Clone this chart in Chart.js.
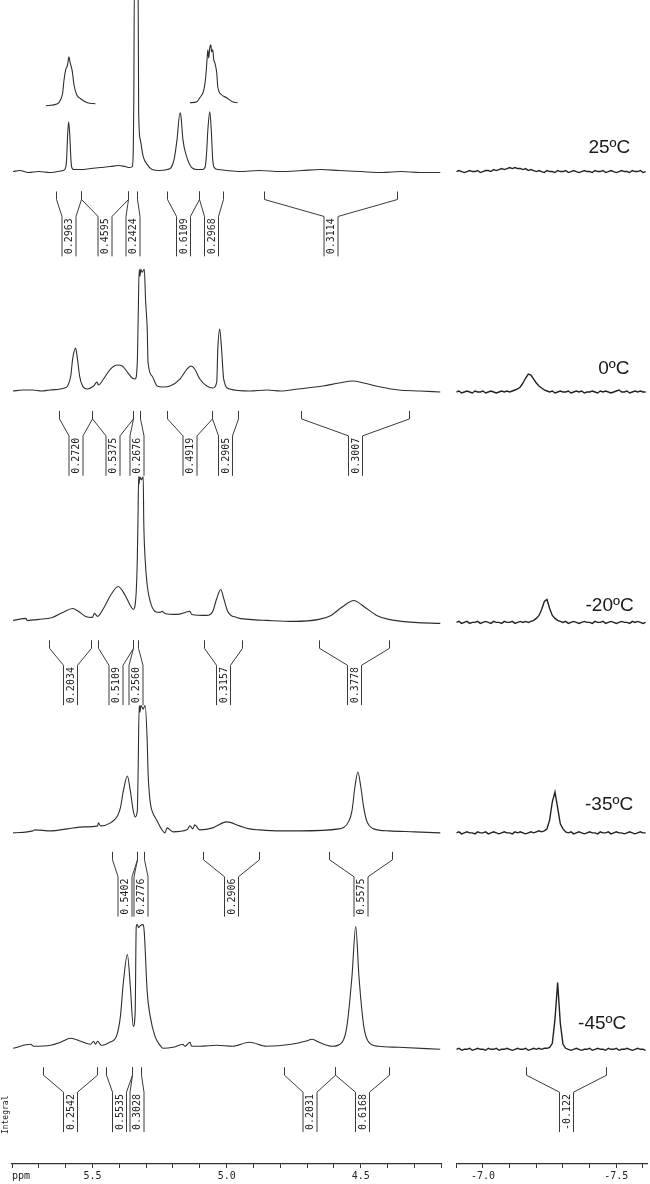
<!DOCTYPE html>
<html>
<head>
<meta charset="utf-8">
<title>Variable-temperature 1H NMR</title>
<script src="https://cdn.jsdelivr.net/npm/chart.js@4.4.1/dist/chart.umd.min.js"></script>
<style>
  html, body { margin: 0; padding: 0; background: #fff; }
  #wrap { position: relative; width: 650px; height: 1184px; }
</style>
</head>
<body>
<div id="wrap"><canvas id="nmr" width="650" height="1184"></canvas></div>
<script>
// ---------- spectra: [ppm, intensity above baseline] ----------
const TEMPERATURES = ['25ºC', '0ºC', '-20ºC', '-35ºC', '-45ºC'];

const LEFT_TICKS  = [5.8, 5.7, 5.6, 5.5, 5.4, 5.3, 5.2, 5.1, 5.0, 4.9, 4.8, 4.7, 4.6, 4.5, 4.4, 4.3, 4.2];
const LEFT_MAJOR  = [5.5, 5.0, 4.5];
const RIGHT_TICKS = [-6.9, -7.0, -7.1, -7.2, -7.3, -7.4, -7.5, -7.6];
const RIGHT_MAJOR = [-7.0, -7.5];

const SPEC_25 = [[5.796,0],[5.770,1],[5.740,-1],[5.700,0],[5.660,-1],[5.630,0],[5.610,1],[5.600,4],[5.596,15],[5.593,35],
  [5.589,50],[5.585,38],[5.581,15],[5.578,5],[5.570,2],[5.544,2],[5.507,3],[5.470,4],[5.433,5],[5.404,6],[5.378,5],[5.363,4],
  [5.352,5],[5.348,22],[5.346,72],[5.344,185],[5.330,185],[5.328,60],[5.322,32],[5.311,15],[5.296,7],[5.278,2],[5.250,1],
  [5.222,2],[5.207,4],[5.196,12],[5.185,32],[5.174,59],[5.170,55],[5.163,32],[5.148,14],[5.130,4],[5.110,2],[5.090,2],
  [5.081,4],[5.076,14],[5.070,42],[5.063,60],[5.057,40],[5.052,12],[5.046,4],[5.030,2],[5.000,1],[4.950,0],[4.880,1],
  [4.800,0],[4.720,1],[4.650,2],[4.580,1],[4.500,0],[4.420,-1],[4.350,0],[4.280,-1],[4.204,-1]];
const INSET_25_A = [[5.674,66],[5.630,68],[5.619,72],[5.611,79],[5.607,90],[5.600,102],[5.593,107],[5.590,112],[5.588,115],
  [5.584,110],[5.579,105],[5.575,100],[5.569,87],[5.559,77],[5.544,73],[5.519,69],[5.489,68]];
const INSET_25_B = [[5.137,69],[5.111,70],[5.100,74],[5.085,82],[5.078,95],[5.074,109],[5.070,122],[5.067,114],[5.063,124],
  [5.059,127],[5.056,120],[5.052,122],[5.048,112],[5.044,109],[5.037,99],[5.033,85],[5.019,77],[5.000,74],[4.978,70],[4.959,69]];

const SPEC_0 = [[5.796,0],[5.760,1],[5.722,1],[5.690,0],[5.659,1],[5.604,3],[5.593,5],[5.581,15],[5.574,32],[5.563,43],
  [5.556,32],[5.548,15],[5.537,5],[5.519,2],[5.496,5],[5.483,9],[5.478,6],[5.459,12],[5.433,22],[5.407,26],[5.389,25],
  [5.370,19],[5.352,13],[5.341,12],[5.333,29],[5.330,70],[5.326,122],[5.323,115],[5.320,122],[5.315,119],[5.307,122],
  [5.302,90],[5.296,62],[5.293,29],[5.278,15],[5.259,5],[5.237,4],[5.211,5],[5.174,12],[5.148,22],[5.133,25],[5.119,22],
  [5.100,12],[5.074,5],[5.052,3],[5.037,9],[5.033,42],[5.026,62],[5.019,42],[5.011,12],[4.989,2],[4.915,0],[4.850,1],
  [4.800,0],[4.733,2],[4.641,5],[4.581,8],[4.530,10],[4.489,8],[4.426,4],[4.359,1],[4.280,0],[4.204,-1]];

const SPEC_20 = [[5.796,0],[5.748,2],[5.744,0],[5.700,1],[5.650,3],[5.611,8],[5.574,12],[5.552,9],[5.526,4],[5.500,3],
  [5.493,7],[5.481,4],[5.459,12],[5.433,25],[5.404,34],[5.378,25],[5.359,15],[5.348,11],[5.337,29],[5.333,62],[5.330,110],
  [5.328,144],[5.326,137],[5.324,144],[5.318,141],[5.311,144],[5.309,100],[5.304,62],[5.296,35],[5.285,19],[5.267,9],
  [5.248,8],[5.241,9],[5.230,7],[5.185,6],[5.137,9],[5.130,6],[5.074,5],[5.052,9],[5.037,22],[5.022,31],[5.011,22],
  [4.996,9],[4.963,3],[4.915,1],[4.850,0],[4.750,-1],[4.656,1],[4.611,5],[4.567,14],[4.526,20],[4.489,14],[4.441,5],
  [4.396,1],[4.300,-2],[4.204,-3]];

const SPEC_35 = [[5.796,-1],[5.722,1],[5.715,2],[5.656,1],[5.593,3],[5.533,5],[5.481,6],[5.478,9],[5.470,6],[5.433,9],
  [5.407,16],[5.396,24],[5.385,41],[5.370,56],[5.359,41],[5.348,21],[5.341,15],[5.333,21],[5.330,60],[5.326,127],
  [5.323,120],[5.320,127],[5.311,123],[5.304,127],[5.296,90],[5.293,60],[5.285,30],[5.278,21],[5.259,11],[5.241,2],
  [5.230,-1],[5.222,4],[5.200,0],[5.148,2],[5.137,6],[5.126,3],[5.119,7],[5.100,2],[5.052,4],[5.000,10],[4.952,6],
  [4.915,3],[4.878,2],[4.800,1],[4.730,1],[4.581,3],[4.544,11],[4.533,21],[4.522,45],[4.511,60],[4.500,45],[4.489,24],
  [4.478,11],[4.452,3],[4.396,1],[4.300,0],[4.204,-1]];

const SPEC_45 = [[5.796,-1],[5.730,3],[5.719,1],[5.656,2],[5.619,5],[5.581,9],[5.544,6],[5.507,3],[5.496,6],[5.489,3],
  [5.481,6],[5.467,2],[5.437,5],[5.411,11],[5.396,31],[5.385,65],[5.370,93],[5.359,61],[5.348,21],[5.341,35],[5.337,121],
  [5.333,123],[5.328,120],[5.322,122],[5.311,123],[5.307,115],[5.296,55],[5.285,31],[5.267,11],[5.248,2],[5.237,-1],
  [5.200,0],[5.163,3],[5.156,1],[5.137,5],[5.130,1],[5.100,1],[5.037,2],[4.978,1],[4.915,5],[4.852,1],[4.759,3],
  [4.707,6],[4.681,8],[4.656,5],[4.607,1],[4.570,5],[4.552,21],[4.533,71],[4.519,121],[4.507,71],[4.489,21],[4.470,5],
  [4.433,1],[4.359,0],[4.204,-2]];

// hydride region, sampled every 0.01 ppm
const RIGHT_PPM = [-6.90,-6.91,-6.92,-6.93,-6.94,-6.95,-6.96,-6.97,-6.98,-6.99,
  -7.00,-7.01,-7.02,-7.03,-7.04,-7.05,-7.06,-7.07,-7.08,-7.09,
  -7.10,-7.11,-7.12,-7.13,-7.14,-7.15,-7.16,-7.17,-7.18,-7.19,
  -7.20,-7.21,-7.22,-7.23,-7.24,-7.25,-7.26,-7.27,-7.28,-7.29,
  -7.30,-7.31,-7.32,-7.33,-7.34,-7.35,-7.36,-7.37,-7.38,-7.39,
  -7.40,-7.41,-7.42,-7.43,-7.44,-7.45,-7.46,-7.47,-7.48,-7.49,
  -7.50,-7.51,-7.52,-7.53,-7.54,-7.55,-7.56,-7.57,-7.58,-7.59,
  -7.60,-7.61];
const RIGHT_25 = [0,1,0,-1,0,1,0,0,1,-1, 0,1,1,0,2,1,2,3,2,3, 4,3,4,3,3,2,3,1,2,1, 0,1,0,-1,1,0,0,-1,1,0,
  0,1,-1,0,1,0,-1,0,1,0, 0,-1,1,0,0,1,-1,0,1,0, -1,0,1,0,0,-1,1,0,0,1, -1,0];
const RIGHT_0 = [-1,0,-2,-1,0,-1,-2,0,-1,-1, 0,-2,-1,0,-1,-2,-1,0,-1,0, -1,0,1,
  2,4,8,13,17,16,12,8,5,3,1,
  0,-1,0,-2,-1,0,-1,-1,0,-2, -1,0,-1,0,-2,-1,-1,0,-1,-2, 0,-1,0,-1,-2,-1,0,1,-1,-1, 0,-2,-1,0,-1,0,-1,-1];
const RIGHT_20 = [-2,-1,-3,-2,-1,-3,-2,-2,-1,-3, -2,-1,-2,-3,-1,-2,-2,-3,-1,-2, -2,-1,-3,-2,-1,-2,-1,-2,-1,
  0,2,5,11,19,21,12,5,2,0,
  -1,-2,-1,-3,-2,-1,-2,-3,-2,-1, -2,-2,-3,-1,-2,-2,-1,-3,-2,-1, -2,-3,-2,-1,-2,-2,-3,-1,-2,-1, -2,-3,-2];
const RIGHT_35 = [-1,0,-2,-1,0,-1,-1,-2,0,-1, -1,0,-2,-1,0,-1,-2,-1,0,-1, -1,-2,0,-1,0,-1,-2,-1,0,-1, 0,1,0,
  1,3,12,30,40,24,8,3,0,
  -1,0,-2,-1,0,-1,-2,-1,0,-1, -1,-2,0,-1,-1,0,-2,-1,0,-1, -1,-2,-1,0,-1,-2,-1,0,-1,-1];
const RIGHT_45 = [-2,-1,-3,-2,-2,-1,-3,-2,-1,-2, -2,-3,-1,-2,-2,-1,-3,-2,-2,-1, -2,-3,-2,-1,-2,-2,-1,-3,-2,-1, -2,-1,-2,-1,-1,
  0,4,28,65,24,3,-1,
  -2,-3,-2,-1,-2,-3,-2,-2,-1,-3, -2,-1,-2,-2,-3,-1,-2,-2,-1,-3, -2,-2,-1,-2,-3,-2,-1,-2,-2,-3];

// integral regions: [from ppm, to ppm, value]
const INT_25 = [[5.637,5.544,'0.2963'],[5.544,5.367,'0.4595'],[5.367,5.333,'0.2424'],[5.222,5.104,'0.6109'],[5.104,5.015,'0.2968'],[4.859,4.367,'0.3114']];
const INT_0  = [[5.626,5.500,'0.2720'],[5.500,5.348,'0.5375'],[5.348,5.322,'0.2676'],[5.222,5.056,'0.4919'],[5.056,4.956,'0.2905'],[4.722,4.319,'0.3007']];
const INT_20 = [[5.663,5.507,'0.2034'],[5.481,5.348,'0.5109'],[5.348,5.330,'0.2560'],[5.085,4.944,'0.3157'],[4.656,4.396,'0.3778']];
const INT_35 = [[5.426,5.333,'0.5402'],[5.333,5.307,'0.2776'],[5.089,4.878,'0.2906'],[4.619,4.385,'0.5575']];
const INT_45 = [[5.685,5.485,'0.2542'],[5.448,5.352,'0.5535'],[5.352,5.319,'0.3028'],[4.785,4.596,'0.2031'],[4.596,4.396,'0.6168']];
const INT_45_HYDRIDE = [[-7.160,-7.463,'-0.122']];

// ---------- layout ----------
// each trace row gets its own stacked y scale (1 unit = 1 px)
const ROWS = [
  { id: 'yA', max: 172, min: -90 },
  { id: 'yB', max: 130, min: -85 },
  { id: 'yC', max: 145, min: -85 },
  { id: 'yD', max: 127, min: -91 },
  { id: 'yE', max: 125, min: -117 }
];
const LEFT_SPECTRA  = [SPEC_25, SPEC_0, SPEC_20, SPEC_35, SPEC_45];
const RIGHT_SPECTRA = [RIGHT_25, RIGHT_0, RIGHT_20, RIGHT_35, RIGHT_45];
const LEFT_INTEGRALS  = [INT_25, INT_0, INT_20, INT_35, INT_45];
const RIGHT_INTEGRALS = [[], [], [], [], INT_45_HYDRIDE];
const TEMP_LABEL_AT = [[-7.552, 24], [-7.549, 22], [-7.565, 15], [-7.563, 27], [-7.537, 24]];
const BRACKET = { top: -20, knee: -28, neck: -45, bottom: -85, half: 7 };

const INK = '#2e2e2e';
const MONO = '"DejaVu Sans Mono", "Liberation Mono", monospace';

const datasets = [];
ROWS.forEach((row, i) => {
  datasets.push({ data: LEFT_SPECTRA[i], xAxisID: 'xL', yAxisID: row.id,
    borderColor: INK, borderWidth: 1.1, pointRadius: 0, cubicInterpolationMode: 'monotone' });
  datasets.push({ data: RIGHT_PPM.map((p, k) => [p, RIGHT_SPECTRA[i][k]]), xAxisID: 'xR', yAxisID: row.id,
    borderColor: '#222', borderWidth: 1.4, pointRadius: 0, tension: 0 });
});
[INSET_25_A, INSET_25_B].forEach(inset => {
  datasets.push({ data: inset, xAxisID: 'xL', yAxisID: 'yA',
    borderColor: INK, borderWidth: 1.1, pointRadius: 0, cubicInterpolationMode: 'monotone' });
});

function ppmAxis(ticks, major, min, max, weight, order) {
  return {
    type: 'linear', position: 'bottom', stack: 'ppm', stackWeight: weight, weight: order,
    min, max, reverse: true,
    afterBuildTicks: s => { s.ticks = ticks.map(v => ({ value: v })); },
    ticks: {
      autoSkip: false, maxRotation: 0, padding: 3, color: '#222',
      font: { family: MONO, size: 10, lineHeight: 1 },
      callback: v => major.some(m => Math.abs(m - v) < 1e-6) ? v.toFixed(1) : ''
    },
    grid: { drawOnChartArea: false, drawTicks: true, tickLength: 4, color: '#333', tickWidth: 1 },
    border: { display: true, color: '#333', width: 1.2 }
  };
}

const scales = {
  xL: ppmAxis(LEFT_TICKS, LEFT_MAJOR, 4.2, 5.8, 430, 1),
  xGap: { type: 'linear', position: 'bottom', stack: 'ppm', stackWeight: 15, weight: 2, min: 0, max: 1, display: false },
  xR: ppmAxis(RIGHT_TICKS, RIGHT_MAJOR, -7.615, -6.9, 191, 3)
};
ROWS.forEach((row, i) => {
  scales[row.id] = { type: 'linear', position: 'right', stack: 'rows', stackWeight: row.max - row.min,
    weight: i + 1, min: row.min, max: row.max, display: false };
});

// integral brackets with their rotated values
const integralPlugin = {
  id: 'integrals',
  afterDatasetsDraw(chart) {
    const ctx = chart.ctx;
    ctx.save();
    ctx.strokeStyle = '#3a3a3a';
    ctx.lineWidth = 1;
    ctx.fillStyle = '#1e1e1e';
    ctx.font = '10px ' + MONO;
    ROWS.forEach((row, i) => {
      const ys = chart.scales[row.id];
      const yTop = ys.getPixelForValue(BRACKET.top);
      const yKnee = ys.getPixelForValue(BRACKET.knee);
      const yNeck = ys.getPixelForValue(BRACKET.neck);
      const yBot = ys.getPixelForValue(BRACKET.bottom);
      [['xL', LEFT_INTEGRALS[i]], ['xR', RIGHT_INTEGRALS[i]]].forEach(([xid, list]) => {
        const xs = chart.scales[xid];
        list.forEach(([from, to, label]) => {
          const a = Math.round(xs.getPixelForValue(from)) + 0.5;
          const b = Math.round(xs.getPixelForValue(to)) + 0.5;
          const m = (a + b) / 2;
          const h = BRACKET.half;
          ctx.beginPath();
          ctx.moveTo(a, yTop); ctx.lineTo(a, yKnee); ctx.lineTo(m - h, yNeck); ctx.lineTo(m - h, yBot);
          ctx.moveTo(b, yTop); ctx.lineTo(b, yKnee); ctx.lineTo(m + h, yNeck); ctx.lineTo(m + h, yBot);
          ctx.stroke();
          ctx.save();
          ctx.translate(m, yBot - 2);
          ctx.rotate(-Math.PI / 2);
          ctx.textAlign = 'left';
          ctx.textBaseline = 'middle';
          ctx.fillText(label, 0, 0.5);
          ctx.restore();
        });
      });
    });
    ctx.restore();
  },
  afterDraw(chart) {
    const ctx = chart.ctx;
    const xL = chart.scales.xL, xR = chart.scales.xR;
    ctx.save();
    // temperature of each trace
    ctx.fillStyle = '#1a1a1a';
    ctx.font = '19px "Liberation Sans", Arial, sans-serif';
    ctx.textAlign = 'right';
    ctx.textBaseline = 'middle';
    ROWS.forEach((row, i) => {
      const ys = chart.scales[row.id];
      ctx.fillText(TEMPERATURES[i], xR.getPixelForValue(TEMP_LABEL_AT[i][0]), ys.getPixelForValue(TEMP_LABEL_AT[i][1]));
    });
    // axis unit
    ctx.fillStyle = '#222';
    ctx.font = '10px ' + MONO;
    ctx.textAlign = 'left';
    ctx.textBaseline = 'middle';
    ctx.fillText('ppm', xL.left, xL.top + 4 + 3 + 5);
    // row caption for the integral values
    const yE = chart.scales.yE;
    ctx.save();
    ctx.font = '8px ' + MONO;
    ctx.translate(xL.left - 6, yE.getPixelForValue(BRACKET.bottom) + 2);
    ctx.rotate(-Math.PI / 2);
    ctx.fillText('Integral', 0, 0);
    ctx.restore();
    ctx.restore();
  }
};

new Chart(document.getElementById('nmr'), {
  type: 'line',
  data: { datasets },
  options: {
    responsive: false,
    animation: false,
    devicePixelRatio: 1,
    parsing: true,
    layout: { padding: { left: 12, right: 2, top: 0, bottom: 0 } },
    plugins: { legend: { display: false }, tooltip: { enabled: false }, title: { display: false } },
    elements: { line: { fill: false } },
    scales
  },
  plugins: [integralPlugin]
});
</script>
</body>
</html>
